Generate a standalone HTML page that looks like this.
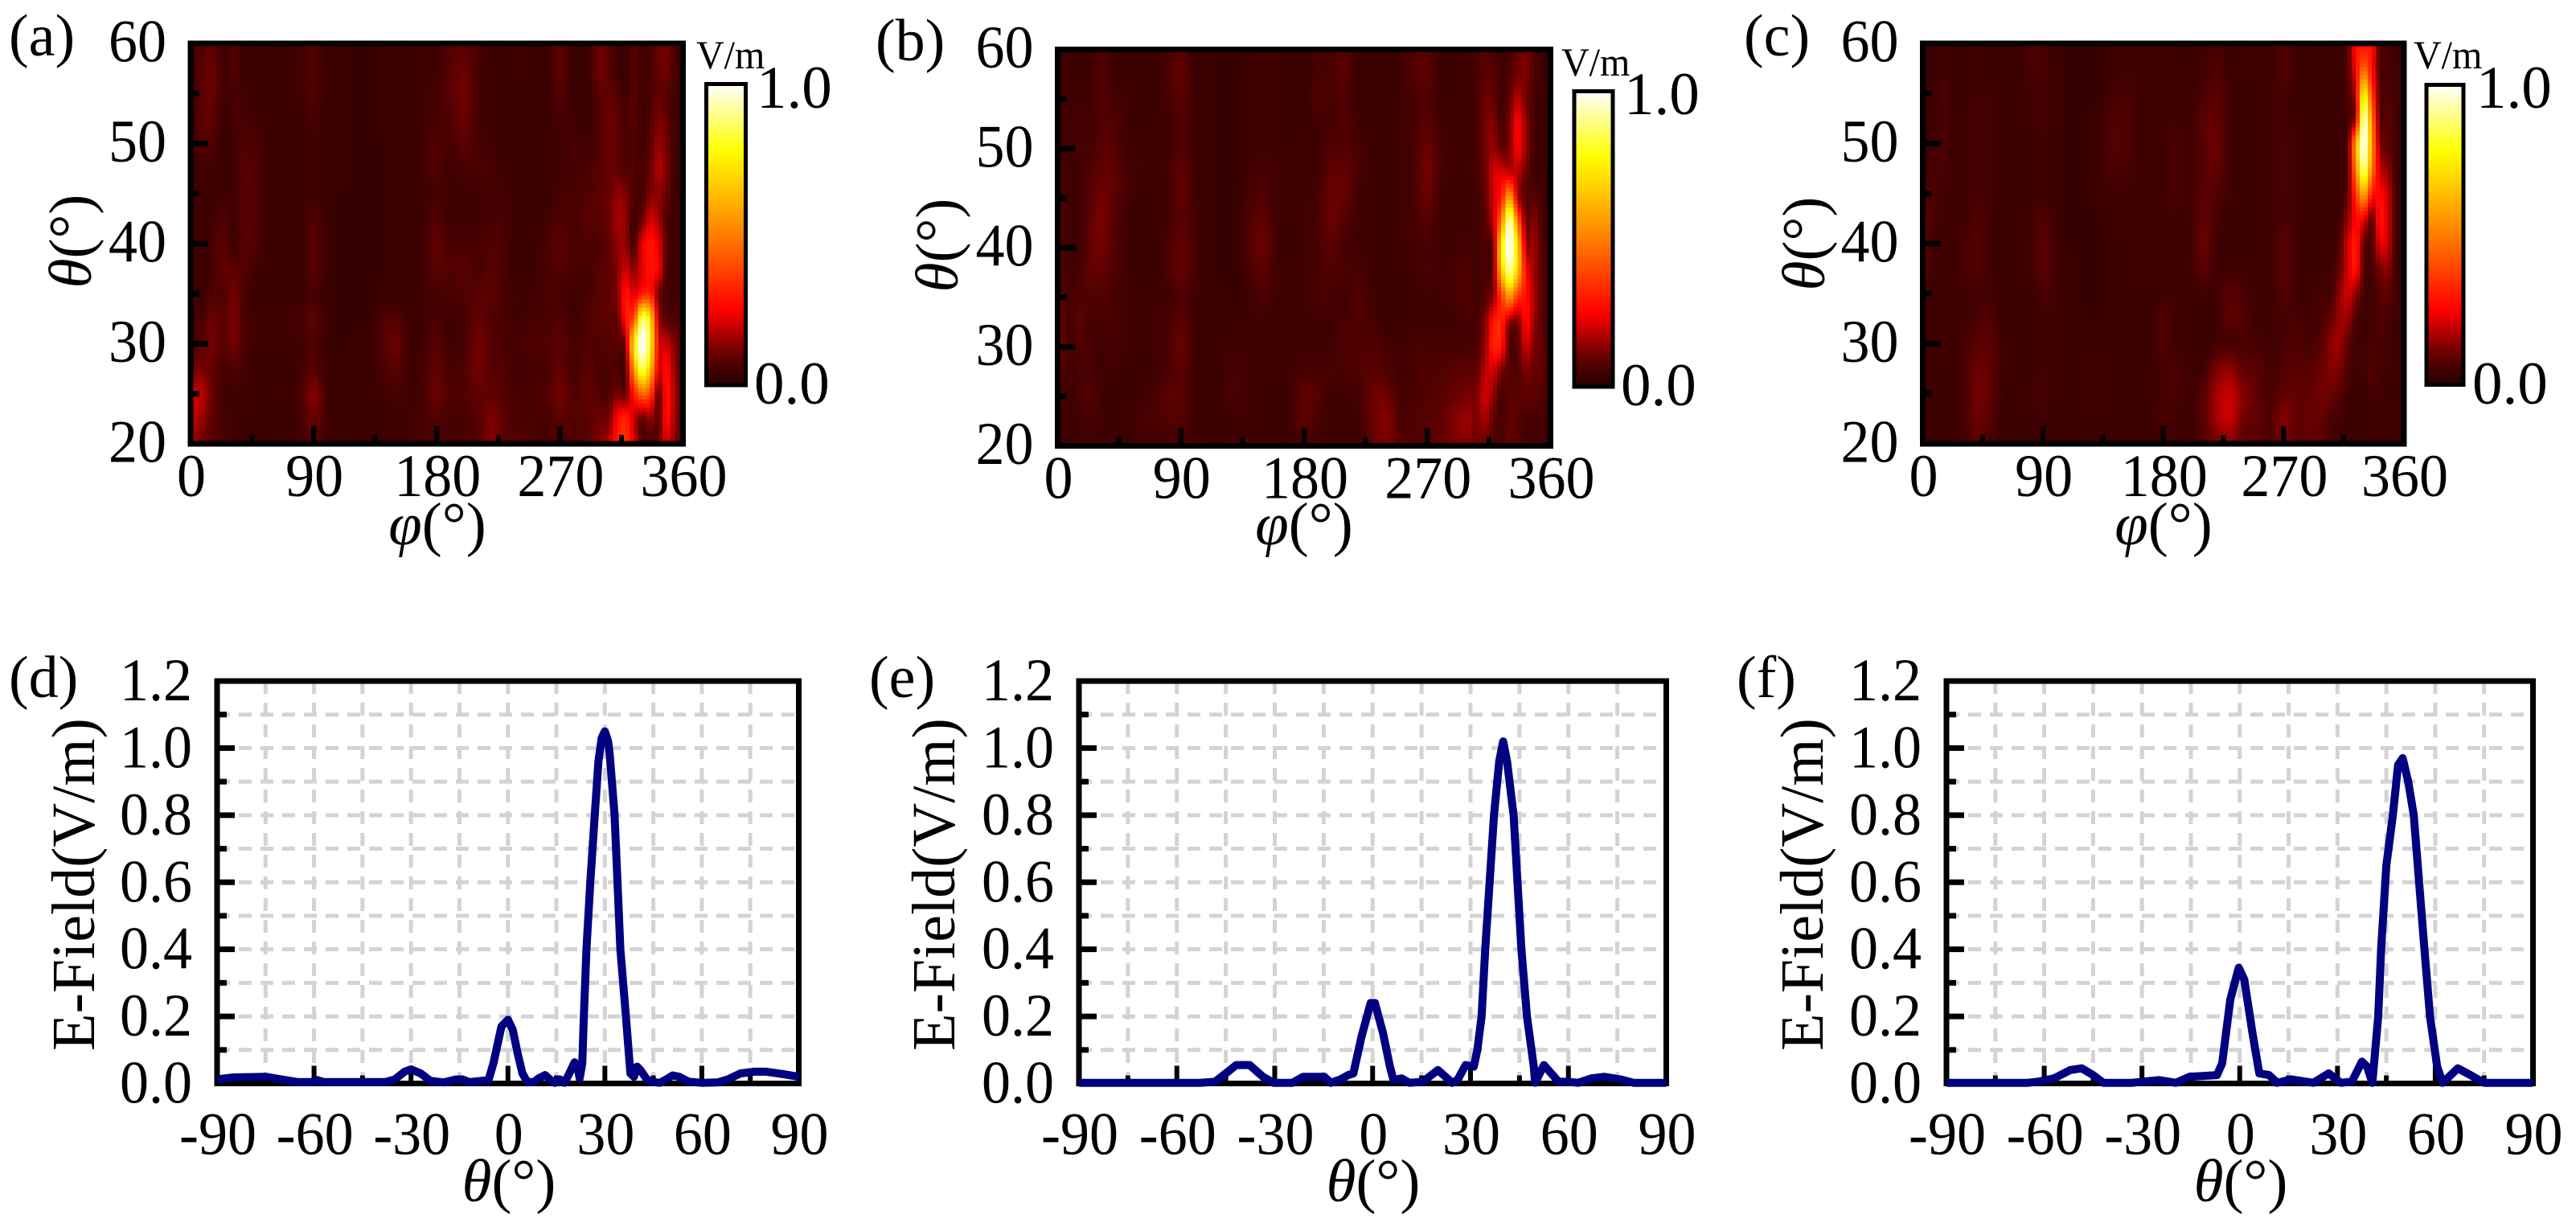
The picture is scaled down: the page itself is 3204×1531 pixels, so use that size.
<!DOCTYPE html>
<html lang="en">
<head>
<meta charset="utf-8">
<title>Beam scanning field maps</title>
<style>
html,body{margin:0;padding:0;background:#fff;}
svg{display:block;}
text{font-family:"Liberation Serif","DejaVu Serif",serif;fill:#000;}
</style>
</head>
<body>
<svg id="figure" xmlns="http://www.w3.org/2000/svg" width="3204" height="1531" viewBox="0 0 3204 1531">
<defs>
<linearGradient id="hotbar" x1="0" y1="1" x2="0" y2="0">
<stop offset="0" stop-color="#2a0000"/><stop offset="0.05" stop-color="#400000"/><stop offset="0.12" stop-color="#780000"/><stop offset="0.18" stop-color="#b80000"/><stop offset="0.25" stop-color="#ff0000"/><stop offset="0.52" stop-color="#ff8800"/><stop offset="0.78" stop-color="#ffff00"/><stop offset="1" stop-color="#ffffff"/>
</linearGradient>
</defs>
<rect width="3204" height="1531" fill="#fff"/>
<g id="marks"></g>

<text x="11" y="69" font-size="74">(a)</text>
<text x="1089" y="75" font-size="74">(b)</text>
<text x="2169" y="69" font-size="74">(c)</text>
<text x="11" y="867" font-size="74">(d)</text>
<text x="1081" y="867" font-size="74">(e)</text>
<text x="2160" y="867" font-size="74">(f)</text>

<text x="544" y="677" font-size="75" text-anchor="middle"><tspan font-style="italic">φ</tspan>(°)</text>
<text x="1622" y="677" font-size="75" text-anchor="middle"><tspan font-style="italic">φ</tspan>(°)</text>
<text x="2691" y="677" font-size="75" text-anchor="middle"><tspan font-style="italic">φ</tspan>(°)</text>
<text x="633" y="1494" font-size="75" text-anchor="middle"><tspan font-style="italic">θ</tspan>(°)</text>
<text x="1708" y="1494" font-size="75" text-anchor="middle"><tspan font-style="italic">θ</tspan>(°)</text>
<text x="2787" y="1494" font-size="75" text-anchor="middle"><tspan font-style="italic">θ</tspan>(°)</text>

<text transform="translate(113,300) rotate(-90)" font-size="75" text-anchor="middle"><tspan font-style="italic">θ</tspan>(°)</text>
<text transform="translate(1191,305) rotate(-90)" font-size="75" text-anchor="middle"><tspan font-style="italic">θ</tspan>(°)</text>
<text transform="translate(2269,303) rotate(-90)" font-size="75" text-anchor="middle"><tspan font-style="italic">θ</tspan>(°)</text>
<text transform="translate(117,1100) rotate(-90)" font-size="76" text-anchor="middle">E-Field(V/m)</text>
<text transform="translate(1187,1100) rotate(-90)" font-size="76" text-anchor="middle">E-Field(V/m)</text>
<text transform="translate(2267,1100) rotate(-90)" font-size="76" text-anchor="middle">E-Field(V/m)</text>

<g>
<rect x="878.5" y="104.5" width="49" height="374.5" fill="url(#hotbar)" stroke="#000" stroke-width="5"/>
<text transform="translate(866,85) scale(.96,1)" font-size="50">V/m</text>
<text transform="translate(941,134) scale(1,1)" font-size="75">1.0</text>
<text transform="translate(938,502) scale(1,1)" font-size="75">0.0</text>
</g>
<g>
<rect x="1958" y="113.5" width="48" height="367.5" fill="url(#hotbar)" stroke="#000" stroke-width="5"/>
<text transform="translate(1942,94) scale(.96,1)" font-size="50">V/m</text>
<text transform="translate(2020,142) scale(1,1)" font-size="75">1.0</text>
<text transform="translate(2016,504) scale(1,1)" font-size="75">0.0</text>
</g>
<g>
<rect x="3018" y="105.5" width="46" height="373" fill="url(#hotbar)" stroke="#000" stroke-width="5"/>
<text transform="translate(3002,85) scale(.96,1)" font-size="50">V/m</text>
<text transform="translate(3080,134) scale(1,1)" font-size="75">1.0</text>
<text transform="translate(3075,502) scale(1,1)" font-size="75">0.0</text>
</g>
</svg>

<script>
// ---------- tick labels ----------
const phiTicks = [0, 90, 180, 270, 360];
const phiMinorTicks = [45, 135, 225, 315];
const polarTicks = [20, 30, 40, 50, 60];
const polarMinorTicks = [25, 35, 45, 55];
const scanTicks = [-90, -60, -30, 0, 30, 60, 90];
const scanMinorTicks = [-75, -45, -15, 15, 45, 75];
const fieldTicks = ['0.0', '0.2', '0.4', '0.6', '0.8', '1.0', '1.2'];
const fieldMinorTicks = [0.1, 0.3, 0.5, 0.7, 0.9, 1.1];

// ---------- line cuts: theta (deg) and E-field (V/m) ----------
const thetaD = [-90,-85,-75,-70,-65,-61,-59,-57,-45,-38,-35,-32,-30,-27,-24,-20,-16,-14,-12,-8,-6,-4.5,-2,0,1.5,3,4.5,6,8,9.5,11.5,13,14.5,16,17.5,19,20.6,21.5,22.2,23,23.5,24.3,25.5,27,28,29,30,31,31.5,33,34,34.8,36.5,37.9,39,40,41,43,45,47,49,51,53,56,60,65,68,72,76,80,85,90];
const fieldD = [.012,.018,.02,.012,.004,.004,.01,.004,.004,.004,.012,.035,.042,.03,.008,.003,.012,.012,.004,.008,.01,.06,.17,.19,.16,.09,.03,.004,.004,.015,.025,.012,.002,.012,.002,.03,.063,.05,.015,.06,.2,.4,.6,.82,.96,1.03,1.05,1.02,.98,.8,.58,.4,.2,.03,.02,.05,.04,.012,.004,.002,.012,.024,.02,.005,.002,.003,.012,.03,.035,.035,.028,.02];
const thetaE = [-90,-70,-53,-48.3,-45,-41.8,-37.7,-33.6,-30.3,-24.6,-21.3,-14.8,-12.8,-9.9,-7.5,-5.9,-3.4,-.6,.7,3.2,5.3,6.4,8.9,11.3,15.4,20,24.4,26,28.5,31,32.1,33.4,34.5,36,37.2,38.8,40,41.2,43.2,45.6,47.3,49.4,49.8,52.5,57,60,63,67,71,76,80,90];
const fieldE = [.002,.002,.002,.005,.03,.055,.055,.02,.002,.002,.02,.02,.002,.012,.025,.03,.14,.24,.24,.15,.05,.01,.015,.002,.005,.04,.002,.01,.055,.05,.1,.2,.4,.62,.8,.96,1.02,.96,.8,.4,.2,.05,.002,.055,.005,.005,.002,.015,.02,.012,.002,.002];
const thetaF = [-90,-65,-62,-57,-52,-48.5,-45,-41.8,-33,-24.8,-19.6,-15.4,-7,-5.4,-2.9,-.3,1.4,3.9,6,9,11.5,15.8,22.6,27.3,31,34.4,37.5,39.1,40.7,42.5,43.4,45,47,48.6,50,51.7,53.4,56.7,58.4,60.6,62.3,66.9,70.8,75,90];
const fieldF = [.002,.002,.005,.015,.04,.045,.025,.002,.002,.01,.002,.02,.025,.06,.25,.345,.31,.15,.03,.025,.002,.012,.002,.03,.002,.005,.065,.05,.002,.2,.4,.65,.8,.95,.97,.9,.8,.4,.2,.05,.002,.045,.025,.002,.002];

// ---------- heatmap axes ----------
const phiGrid = [0,8,16,24,32,40,50,60,70,80,90,100,110,120,130,140,150,160,170,180,190,200,210,220,230,240,250,260,270,280,290,300,306,312,318,324,330,336,342,348,354,360];
const thetaGrid = [60,57.5,55,52.5,50,47.5,45,42.5,40,37.5,35,32.5,30,27.5,25,22.5,20];

// ---------- heatmap values, percent of 1 V/m; one row per thetaGrid entry ----------
const heatA = [
[5,7,8,5,7,4,4,4,4,5,7,4,4,3,3,4,4,4,5,5,7,8,6,4,4,5,4,4,9,4,4,11,8,5,4,8,5,6,10,11,6,3],
[5,8,10,5,7,4,4,4,4,5,7,4,4,3,3,4,4,4,5,5,8,10,6,4,4,5,4,4,9,4,4,11,8,5,4,8,5,6,10,11,6,3],
[4,8,10,5,6,5,4,4,4,5,7,4,4,3,3,4,4,4,5,6,8,11,6,4,4,4,4,4,7,4,4,9,9,7,5,8,5,6,9,8,5,3],
[4,8,9,4,6,6,5,4,4,4,6,4,4,3,3,4,4,4,5,6,7,10,6,4,4,4,4,4,6,5,4,8,10,9,6,8,5,7,12,9,5,3],
[4,7,7,4,5,7,6,4,4,4,5,4,4,3,3,3,4,4,5,7,6,8,6,5,4,4,4,4,5,6,5,8,10,9,6,7,5,8,15,11,5,3],
[4,5,5,4,5,8,6,4,4,4,5,4,4,3,3,3,4,4,5,7,5,6,6,6,4,4,4,4,5,6,6,8,10,9,7,7,6,10,17,12,5,3],
[4,5,4,5,5,8,6,4,4,4,5,4,3,3,3,3,4,4,4,6,5,5,5,6,5,4,4,4,6,6,7,9,10,14,12,7,6,12,14,10,4,3],
[5,4,5,7,5,8,6,4,4,4,7,4,3,3,3,3,4,4,5,7,5,5,5,6,6,4,4,5,7,6,8,8,11,16,14,5,10,20,16,7,4,3],
[5,4,6,8,5,8,6,4,4,4,8,4,3,3,3,3,4,4,5,9,6,6,6,7,6,4,4,6,8,6,7,7,9,14,15,6,22,28,22,8,4,3],
[5,4,6,9,8,7,5,4,4,4,8,4,3,3,3,3,4,4,5,8,7,8,6,8,6,4,4,6,7,6,6,8,9,13,20,14,22,28,24,7,5,3],
[5,4,7,7,11,6,4,4,4,4,6,4,3,3,3,4,4,4,5,6,6,7,8,8,6,5,5,6,6,5,6,8,9,13,28,22,30,32,12,6,5,3],
[5,6,10,8,12,6,5,4,5,6,8,4,3,3,3,6,7,4,5,6,5,6,9,7,6,5,6,6,7,5,7,8,9,10,28,40,85,70,18,8,7,4],
[5,8,11,8,11,6,5,4,5,5,7,4,3,4,4,7,10,5,5,8,5,6,11,8,6,6,7,7,8,6,7,7,8,8,14,72,100,78,24,20,12,5],
[10,12,9,6,7,5,4,4,4,5,8,4,4,4,4,6,8,5,6,9,6,7,11,8,7,5,6,6,9,6,8,6,7,7,8,55,85,65,22,27,14,5],
[20,18,10,5,5,5,4,4,5,6,13,5,4,4,4,5,6,5,6,10,7,7,9,9,7,6,6,7,11,7,9,7,7,12,10,30,45,38,10,28,16,5],
[20,15,9,6,5,4,4,4,4,5,10,5,4,4,4,4,5,5,6,7,6,6,8,12,8,6,6,6,8,7,8,11,12,26,30,20,10,15,8,27,15,5],
[18,10,7,6,5,4,4,4,4,5,7,5,4,4,4,4,5,5,6,6,6,6,7,13,7,8,6,6,6,7,8,14,18,30,34,22,6,6,10,20,12,4]
];
const heatB = [
[4,5,4,4,7,5,4,4,4,6,8,4,4,3,3,4,5,5,4,4,6,6,8,4,4,4,5,7,8,4,4,5,5,8,6,5,6,9,12,7,4,3],
[5,5,4,5,7,5,4,4,4,6,9,4,4,3,3,4,5,5,4,4,6,6,8,4,4,4,5,7,8,4,4,5,6,8,8,5,7,11,12,7,4,3],
[6,5,5,5,7,6,5,4,4,6,8,5,4,3,3,4,5,5,4,4,7,6,7,4,4,4,5,6,7,4,5,5,6,10,10,5,9,18,11,6,4,3],
[6,5,6,5,7,7,5,4,4,5,7,5,4,3,3,4,5,5,4,4,5,6,7,5,4,4,5,6,8,5,5,5,6,11,13,6,12,25,14,6,4,3],
[6,5,6,6,8,8,5,5,4,5,7,5,4,3,3,4,5,5,4,5,5,7,7,6,4,4,5,6,10,6,5,5,6,11,15,10,12,25,14,6,4,3],
[7,5,5,7,9,9,6,5,4,5,9,5,4,3,3,5,6,5,5,5,5,9,9,6,5,4,5,6,11,6,5,5,6,10,20,22,20,18,10,5,4,3],
[7,5,5,8,11,9,6,4,4,5,9,5,4,3,3,6,7,5,5,5,6,10,9,5,5,4,5,6,10,5,5,5,5,9,20,30,60,20,8,8,5,3],
[8,5,5,9,12,8,5,4,4,5,8,6,4,3,3,7,9,5,4,5,6,10,7,5,5,4,5,6,7,5,5,5,5,8,18,50,95,50,12,14,6,3],
[8,5,5,9,11,8,5,4,4,6,9,6,4,3,3,7,10,5,4,5,6,8,6,5,5,4,5,5,6,5,5,6,5,7,10,70,100,70,18,16,7,3],
[8,5,6,9,9,7,5,4,4,6,9,6,4,3,3,6,8,5,5,5,6,7,6,6,5,4,4,5,6,5,6,7,5,7,10,60,90,65,28,16,8,3],
[9,6,7,7,7,6,5,4,5,5,7,5,4,4,3,5,6,5,5,5,6,6,5,7,5,4,4,5,5,5,6,7,5,8,14,35,55,35,28,17,8,3],
[12,6,8,6,6,6,5,4,5,6,8,5,4,4,4,5,5,5,5,5,5,5,6,7,6,4,4,5,5,5,5,6,6,12,28,32,15,12,26,15,8,3],
[13,6,7,6,5,6,5,4,5,6,10,5,4,5,5,5,5,5,5,5,5,5,7,7,7,6,5,6,6,6,6,6,7,14,30,28,8,8,20,12,9,4],
[9,5,6,6,5,5,4,4,5,6,8,5,4,5,6,5,5,4,5,6,6,6,6,7,8,7,5,6,7,7,8,9,9,18,20,12,8,7,12,10,9,4],
[7,5,6,7,5,4,4,5,6,8,8,5,4,5,6,5,4,4,5,9,7,5,5,6,10,11,6,6,7,8,10,12,12,20,14,6,8,8,9,8,7,3],
[6,5,5,6,5,4,4,6,6,7,7,5,4,4,5,5,4,4,5,8,6,5,5,5,10,13,7,7,8,9,13,15,12,16,9,6,9,8,6,6,6,3],
[6,4,5,5,4,4,4,5,5,5,6,5,4,4,5,4,4,4,4,6,5,5,5,5,8,12,8,7,7,9,11,12,10,10,7,6,9,7,5,5,5,3]
];
const heatC = [
[4,4,4,4,4,4,4,4,4,6,6,4,3,3,3,4,4,5,4,5,4,4,5,6,4,4,5,5,7,4,4,4,4,4,8,28,25,28,8,6,4,3],
[4,4,5,4,4,5,4,4,4,6,6,4,3,3,3,4,5,5,4,5,5,4,5,7,4,4,5,5,7,4,4,4,4,4,8,25,45,28,8,6,5,3],
[5,4,6,4,4,5,5,4,4,5,6,4,3,3,3,5,6,5,4,5,5,5,6,8,5,4,4,5,6,4,4,4,4,4,7,20,75,38,9,7,5,3],
[5,5,6,4,5,6,5,4,4,5,6,4,3,3,4,6,7,5,4,5,5,5,8,9,5,4,4,5,6,4,4,4,4,4,6,18,95,50,10,8,5,3],
[5,5,6,4,5,6,5,4,4,4,5,4,3,3,4,7,7,5,4,5,6,5,8,10,5,4,4,5,6,5,4,4,4,4,8,55,100,55,14,9,5,3],
[5,6,6,5,5,6,5,4,4,4,5,4,3,3,4,6,6,5,4,5,6,5,8,9,5,4,4,5,6,5,4,4,4,4,8,50,90,50,20,14,5,3],
[7,6,5,5,5,6,5,4,4,4,5,4,3,3,4,5,5,5,4,5,6,5,8,7,5,4,4,5,6,5,4,4,4,4,10,35,60,30,26,19,6,3],
[9,6,5,5,5,7,5,4,4,5,7,4,3,3,3,5,5,5,4,5,5,5,9,6,4,4,4,5,6,5,4,4,4,5,14,26,25,10,28,20,6,3],
[10,5,5,5,6,7,5,4,4,5,8,5,3,3,3,4,4,5,4,5,5,5,10,5,4,4,4,5,8,5,4,4,4,8,20,30,10,7,22,19,5,3],
[8,5,5,5,6,7,5,4,4,5,8,5,4,3,3,4,4,5,4,5,5,5,8,5,5,5,4,5,8,5,4,5,5,10,20,28,8,6,12,14,5,3],
[6,4,5,5,5,6,5,4,4,4,6,5,4,3,3,4,4,4,4,5,5,4,5,5,8,6,5,5,7,5,5,6,6,14,20,14,6,5,8,9,5,3],
[5,4,5,5,5,6,7,4,4,4,5,5,4,4,3,4,4,4,4,7,5,4,4,5,8,7,5,5,6,6,5,7,10,15,15,7,5,5,7,6,5,3],
[5,4,5,5,6,8,8,5,4,4,5,5,4,4,4,4,4,4,4,7,5,4,4,6,6,6,6,5,6,7,6,9,14,15,9,5,5,6,6,5,4,3],
[5,4,4,5,6,10,9,5,4,4,5,5,4,4,5,4,4,4,4,6,6,5,5,12,14,9,8,6,7,8,8,11,13,12,7,5,5,7,6,5,4,3],
[5,4,4,5,6,11,9,4,4,5,6,4,4,5,5,4,4,4,4,6,6,5,8,16,19,13,9,6,9,9,9,11,10,8,5,4,4,6,5,4,4,3],
[5,4,4,5,6,10,8,4,4,4,5,4,4,4,4,4,4,4,4,6,5,5,8,16,19,11,9,7,13,9,10,9,6,6,4,4,4,4,5,5,4,3],
[5,4,4,5,6,8,6,4,4,4,5,4,4,4,4,4,4,4,4,5,5,5,7,10,12,8,8,6,10,8,8,7,5,4,4,4,4,4,5,5,4,3]
];

// ---------- layout (pixels) ----------
const svgNS = 'http://www.w3.org/2000/svg';
const root = document.getElementById('marks');
const frameWidth = 7;

function shape(tag, attrs, parent) {
  const el = document.createElementNS(svgNS, tag);
  for (const k in attrs) el.setAttribute(k, attrs[k]);
  (parent || root).appendChild(el);
  return el;
}

function tickLine(x1, y1, x2, y2, w, name, parent) {
  const el = shape('line', {x1: x1, y1: y1, x2: x2, y2: y2, stroke: '#000', 'stroke-width': w}, parent);
  
  
}

function tickText(x, y, str, anchor, name, parent) {
  const el = shape('text', {transform: 'translate(' + x + ',' + y + ') scale(.96,1)', 'font-size': 75, 'text-anchor': anchor}, parent);
  el.textContent = str;
  
  
}

function frameRect(p, name, parent) {
  const el = shape('rect', {x: p.left, y: p.top, width: p.right - p.left, height: p.bottom - p.top, fill: 'none', stroke: '#000', 'stroke-width': frameWidth}, parent);
  
  
}

function linearAxis(d0, d1, r0, r1) {
  return function (v) { return r0 + (v - d0) / (d1 - d0) * (r1 - r0); };
}

// ---------- colour ramp ----------
const rampStops = [0, .05, .12, .18, .25, .52, .78, 1];
const rampR = [42, 64, 120, 184, 255, 255, 255, 255];
const rampG = [0, 0, 0, 0, 0, 136, 255, 255];
const rampB = [0, 0, 0, 0, 0, 0, 0, 255];
function heatColor(v) {
  v = Math.max(0, Math.min(1, v));
  let i = 0;
  while (i < rampStops.length - 2 && v > rampStops[i + 1]) i++;
  const t = (v - rampStops[i]) / (rampStops[i + 1] - rampStops[i]);
  const c = function (a) { return Math.round(a[i] + (a[i + 1] - a[i]) * t); };
  return 'rgb(' + c(rampR) + ',' + c(rampG) + ',' + c(rampB) + ')';
}

function bracket(grid, v) {
  let i = 0;
  while (i < grid.length - 2 && (grid[i + 1] - v) * (grid[1] - grid[0]) < 0) i++;
  const t = (v - grid[i]) / (grid[i + 1] - grid[i]);
  return [i, Math.max(0, Math.min(1, t))];
}

// Cubic Hermite through the read grid values, on the non-uniform grid.
function hermite(grid, vals, i, t) {
  const n = grid.length;
  const i0 = Math.max(0, i - 1), i3 = Math.min(n - 1, i + 2);
  const h = grid[i + 1] - grid[i];
  const m1 = (vals[i + 1] - vals[i0]) / (grid[i + 1] - grid[i0]) * h;
  const m2 = (vals[i3] - vals[i]) / (grid[i3] - grid[i]) * h;
  const t2 = t * t, t3 = t2 * t;
  return (2 * t3 - 3 * t2 + 1) * vals[i] + (t3 - 2 * t2 + t) * m1 + (-2 * t3 + 3 * t2) * vals[i + 1] + (t3 - t2) * m2;
}

function sampleHeat(values, phi, theta) {
  const a = bracket(phiGrid, phi), b = bracket(thetaGrid, theta);
  const across = values.map(function (row) { return hermite(phiGrid, row, a[0], a[1]); });
  return hermite(thetaGrid, across, b[0], b[1]) / 100;
}

function drawHeatPanel(id, p, values) {
  const g = shape('g', {});
  
  
  const xs = linearAxis(0, 360, p.left, p.right);
  const ys = linearAxis(20, 60, p.bottom, p.top);
  const dPhi = 3, dTheta = 0.4;
  for (let th = 60; th > 20 + 1e-6; th -= dTheta) {
    for (let ph = 0; ph < 360 - 1e-6; ph += dPhi) {
      const cell = shape('rect', {
        x: xs(ph).toFixed(1), y: ys(th).toFixed(1),
        width: (xs(ph + dPhi) - xs(ph) + 0.6).toFixed(1),
        height: (ys(th - dTheta) - ys(th) + 0.6).toFixed(1),
        fill: heatColor(sampleHeat(values, ph + dPhi / 2, th - dTheta / 2)),
        'shape-rendering': 'crispEdges'
      }, g);
      
      
    }
  }
  phiTicks.forEach(function (v) {
    if (v > 0 && v < 360) tickLine(xs(v), p.bottom, xs(v), p.bottom - 22, 6, 'x-major-tick', g);
    tickText(xs(v) + 1, p.bottom + 65, String(v), 'middle', 'x-tick-label', g);
  });
  phiMinorTicks.forEach(function (v) { tickLine(xs(v), p.bottom, xs(v), p.bottom - 11, 6, 'x-minor-tick', g); });
  polarTicks.forEach(function (v) {
    if (v > 20 && v < 60) tickLine(p.left, ys(v), p.left + 22, ys(v), 7, 'y-major-tick', g);
    tickText(p.left - 30, ys(v) + 22.5, String(v), 'end', 'y-tick-label', g);
  });
  polarMinorTicks.forEach(function (v) { tickLine(p.left, ys(v), p.left + 11, ys(v), 7, 'y-minor-tick', g); });
  frameRect(p, 'heatmap-frame-' + id, g);
}

function drawLinePanel(id, p, thetas, fields) {
  const g = shape('g', {});
  
  
  const xs = linearAxis(-90, 90, p.left, p.right);
  const ys = linearAxis(0, 1.2, p.bottom, p.top);
  const gridStyle = {stroke: '#d3d3d3', 'stroke-width': 5, 'stroke-dasharray': '16 11'};
  scanTicks.concat(scanMinorTicks).forEach(function (v) {
    if (v === -90 || v === 90) return;
    const l = shape('line', Object.assign({x1: xs(v), y1: p.top, x2: xs(v), y2: p.bottom}, gridStyle), g);
    
    
  });
  fieldTicks.map(Number).concat(fieldMinorTicks).forEach(function (v) {
    if (v === 0 || v === 1.2) return;
    const l = shape('line', Object.assign({x1: p.left, y1: ys(v), x2: p.right, y2: ys(v)}, gridStyle), g);
    
    
  });
  scanTicks.forEach(function (v) {
    if (v > -90 && v < 90) tickLine(xs(v), p.bottom, xs(v), p.bottom - 22, 6, 'x-major-tick', g);
    tickText(xs(v) + 1, p.bottom + 88, String(v), 'middle', 'x-tick-label', g);
  });
  scanMinorTicks.forEach(function (v) { tickLine(xs(v), p.bottom, xs(v), p.bottom - 10, 6, 'x-minor-tick', g); });
  fieldTicks.forEach(function (label) {
    const v = Number(label);
    if (v > 0 && v < 1.2) tickLine(p.left, ys(v), p.left + 22, ys(v), 7, 'y-major-tick', g);
    tickText(p.left - 31, ys(v) + 24, label, 'end', 'y-tick-label', g);
  });
  fieldMinorTicks.forEach(function (v) { tickLine(p.left, ys(v), p.left + 12, ys(v), 7, 'y-minor-tick', g); });
  frameRect(p, 'line-frame-' + id, g);
  const pts = thetas.map(function (t, i) { return xs(t).toFixed(1) + ',' + ys(fields[i]).toFixed(1); }).join(' ');
  const curve = shape('polyline', {points: pts, fill: 'none', stroke: '#000080', 'stroke-width': 10, 'stroke-linejoin': 'round', 'stroke-linecap': 'butt'}, g);
  
  
}

drawHeatPanel('a', {left: 237, right: 849.5, top: 54, bottom: 552}, heatA);
drawHeatPanel('b', {left: 1315.5, right: 1928.5, top: 61.5, bottom: 554.5}, heatB);
drawHeatPanel('c', {left: 2391.5, right: 2990, top: 54, bottom: 552}, heatC);
drawLinePanel('d', {left: 270, right: 993.5, top: 847, bottom: 1347.5}, thetaD, fieldD);
drawLinePanel('e', {left: 1342, right: 2072.5, top: 847, bottom: 1347.5}, thetaE, fieldE);
drawLinePanel('f', {left: 2421, right: 3150.5, top: 847, bottom: 1347.5}, thetaF, fieldF);
</script>
</body>
</html>
